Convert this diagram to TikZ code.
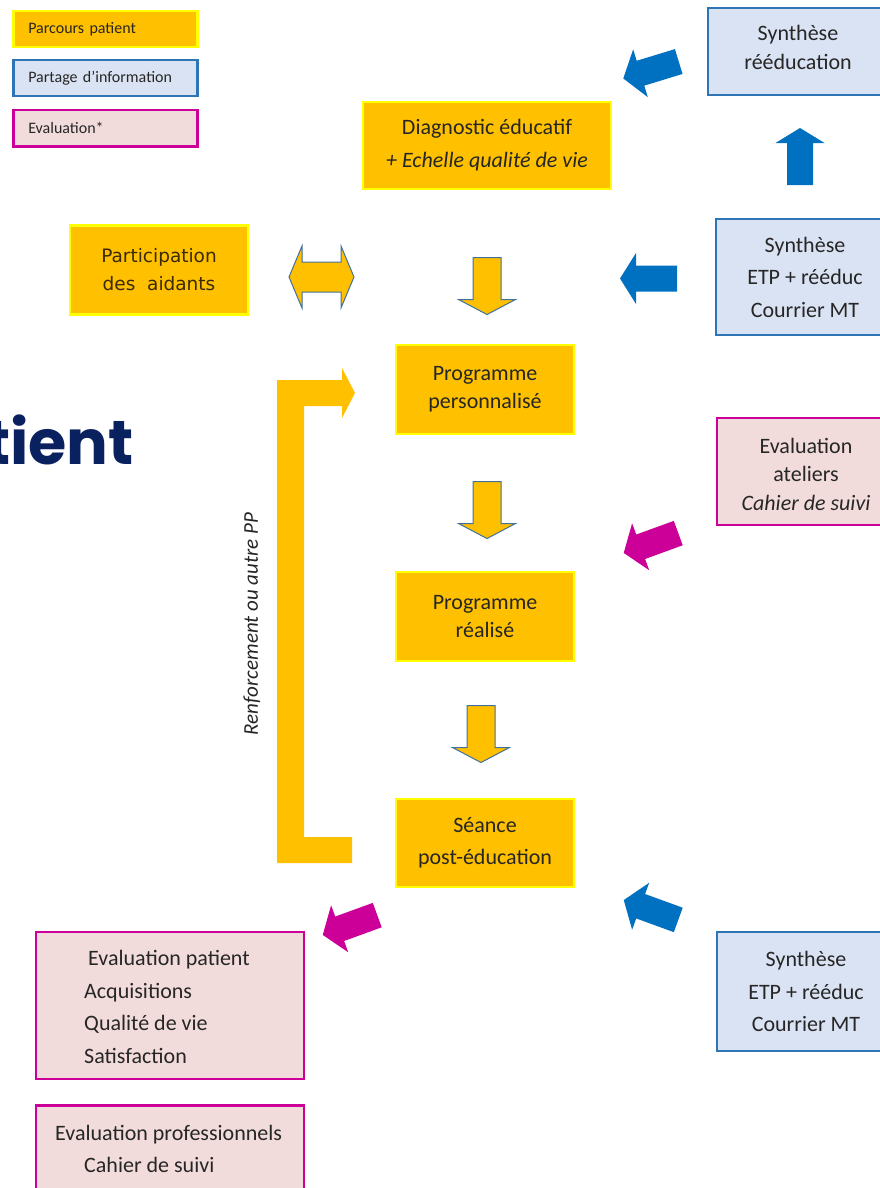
\documentclass[tikz,border=0pt]{standalone}
\usepackage{fontspec}
\setmainfont{Carlito}
\newfontfamily\titlefont{Poppins}
\newfontfamily\tahfont{DejaVu Sans}
\definecolor{orng}{HTML}{FFC000}
\definecolor{ylw}{HTML}{FFFF00}
\definecolor{lblue}{HTML}{DAE3F3}
\definecolor{dblue}{HTML}{2E75B6}
\definecolor{arrblue}{HTML}{0070C0}
\definecolor{pinkf}{HTML}{F2DCDB}
\definecolor{mag}{HTML}{CC0099}
\definecolor{outl}{HTML}{41719C}
\definecolor{navy}{HTML}{0A2160}
\definecolor{txt}{HTML}{262626}
\definecolor{brtxt}{HTML}{3A2A05}
\newcommand{\blkarrow}[8]{% style, cx, cy, angle, L, shaft, headw, headlen
 \pgfmathsetmacro{\hL}{#5/2}\pgfmathsetmacro{\hs}{#6/2}\pgfmathsetmacro{\hh}{#7/2}\pgfmathsetmacro{\hb}{#5/2-#8}%
 \path[#1,shift={(#2,#3)},rotate=#4] (-\hL,-\hs) -- (\hb,-\hs) -- (\hb,-\hh) -- (\hL,0) -- (\hb,\hh) -- (\hb,\hs) -- (-\hL,\hs) -- cycle;}
\newcommand{\dblarrow}[7]{% style, cx, cy, L, shaft, headw, headlen
 \pgfmathsetmacro{\hL}{#4/2}\pgfmathsetmacro{\hs}{#5/2}\pgfmathsetmacro{\hh}{#6/2}\pgfmathsetmacro{\hb}{#4/2-#7}%
 \path[#1,shift={(#2,#3)}] (-\hL,0) -- (-\hb,-\hh) -- (-\hb,-\hs) -- (\hb,-\hs) -- (\hb,-\hh) -- (\hL,0) -- (\hb,\hh) -- (\hb,\hs) -- (-\hb,\hs) -- (-\hb,\hh) -- cycle;}
\begin{document}
\begin{tikzpicture}[x=1pt,y=-1pt,
  every node/.style={text=txt, inner sep=0pt},
  ybox/.style={draw=ylw, fill=orng, line width=2.5pt, align=center},
  bbox/.style={draw=dblue, fill=lblue, line width=2.5pt, align=center},
  pbox/.style={draw=mag, fill=pinkf, line width=2.5pt, align=center},
  legbox/.style={line width=1.6pt, minimum width=184pt, minimum height=36pt, text width=154pt, inner xsep=15pt, align=left, anchor=north west, font=\fontsize{16}{18}\selectfont},
  yarrow/.style={fill=orng, draw=outl, line width=1pt, line join=miter},
  barrow/.style={fill=arrblue},
  marrow/.style={fill=mag}]
\useasboundingbox (0,0) rectangle (880,1188);
\clip (0,0) rectangle (880,1188);
\fill[white] (0,0) rectangle (880,1188);

% legend
\node[legbox, ybox, align=left] (lg1) at (12,10) {Parcours patient};
\node[legbox, bbox, align=left] (lg2) at (12,59) {Partage d’information};
\node[legbox, pbox, align=left] (lg3) at (12,109) {Evaluation*};

% title fragment
\node[anchor=base east, font=\titlefont\bfseries\fontsize{62}{66}\selectfont, text=navy] (title) at (134,464) {tient};

% central column
\node[ybox, minimum width=248pt, minimum height=87pt, font=\fontsize{22}{33}\selectfont] (diag) at (487,145.5) {Diagnostic éducatif\\\textit{+ Echelle qualité de vie}};
\node[ybox, minimum width=178pt, minimum height=89pt, font=\tahfont\fontsize{18.5}{28}\selectfont, text=brtxt] (part) at (159,270) {Participation\\des\ \ aidants};
\node[ybox, minimum width=178pt, minimum height=89pt, font=\fontsize{22}{28}\selectfont] (pp) at (485,389.5) {Programme\\personnalisé};
\node[ybox, minimum width=178pt, minimum height=89pt, font=\fontsize{22}{28}\selectfont] (pr) at (485,616.5) {Programme\\réalisé};
\node[ybox, minimum width=178pt, minimum height=88pt, font=\fontsize{22}{32}\selectfont] (sea) at (485,843) {Séance\\post-éducation};

% right column
\node[bbox, minimum width=180pt, minimum height=87pt] (synr) at (798,51.5) {};
\node[align=center, font=\fontsize{22}{29}\selectfont] (synrT) at (798,47.5) {Synthèse\\rééducation};
\node[bbox, minimum width=178pt, minimum height=116pt, font=\fontsize{22}{32.5}\selectfont] (syn1) at (805,277) {Synthèse\\ETP + rééduc\\Courrier MT};
\node[pbox, minimum width=178pt, minimum height=107pt] (evat) at (806,471.5) {};
\node[align=center, font=\fontsize{22}{28.5}\selectfont] (evatT) at (806,474) {Evaluation\\ateliers\\\textit{Cahier de suivi}};
\node[bbox, minimum width=178pt, minimum height=119pt, font=\fontsize{22}{32.5}\selectfont] (syn2) at (806,991.5) {Synthèse\\ETP + rééduc\\Courrier MT};

% left evaluation boxes
\node[pbox, minimum width=268pt, minimum height=147pt] (evp) at (170,1005.5) {};
\node[anchor=north west, align=left, font=\fontsize{22}{32.6}\selectfont] (evpT) at (84,950) {\hspace*{4pt}Evaluation patient\\Acquisitions\\Qualité de vie\\Satisfaction};
\node[pbox, minimum width=268pt, minimum height=130pt, anchor=north] (evpr) at (170,1104) {};
\node[anchor=north west, align=left, font=\fontsize{22}{32.4}\selectfont] (evprT) at (55,1125) {Evaluation professionnels\\\hspace*{29pt}Cahier de suivi};

% yellow arrows
\blkarrow{yarrow}{487}{286}{270}{57}{28}{57}{15}
\blkarrow{yarrow}{487}{510}{270}{57}{28}{57}{15}
\blkarrow{yarrow}{481}{734}{270}{57}{28}{57}{15}
\dblarrow{yarrow}{321.5}{277}{65}{30}{62}{13}

% bracket (renforcement)
\fill[orng] (277,863) -- (277,380) -- (342,380) -- (342,368) -- (355,393) -- (342,418) -- (342,406) -- (304,406) -- (304,837) -- (352,837) -- (352,863) -- cycle;
\node[rotate=90, font=\itshape\fontsize{21}{24}\selectfont] (renf) at (252,624) {Renforcement ou autre PP};

% blue arrows
\blkarrow{barrow}{651}{70}{197}{58}{26}{50}{18}
\blkarrow{barrow}{800}{156.5}{90}{57}{26}{49}{15}
\blkarrow{barrow}{648.5}{278.5}{180}{57}{26}{51}{16}
\blkarrow{barrow}{651}{910}{160}{58}{26}{50}{18}

% magenta arrows
\blkarrow{marrow}{651}{543}{200}{58}{26}{50}{18}
\blkarrow{marrow}{350}{925}{200}{58}{26}{50}{18}
\end{tikzpicture}
\end{document}
